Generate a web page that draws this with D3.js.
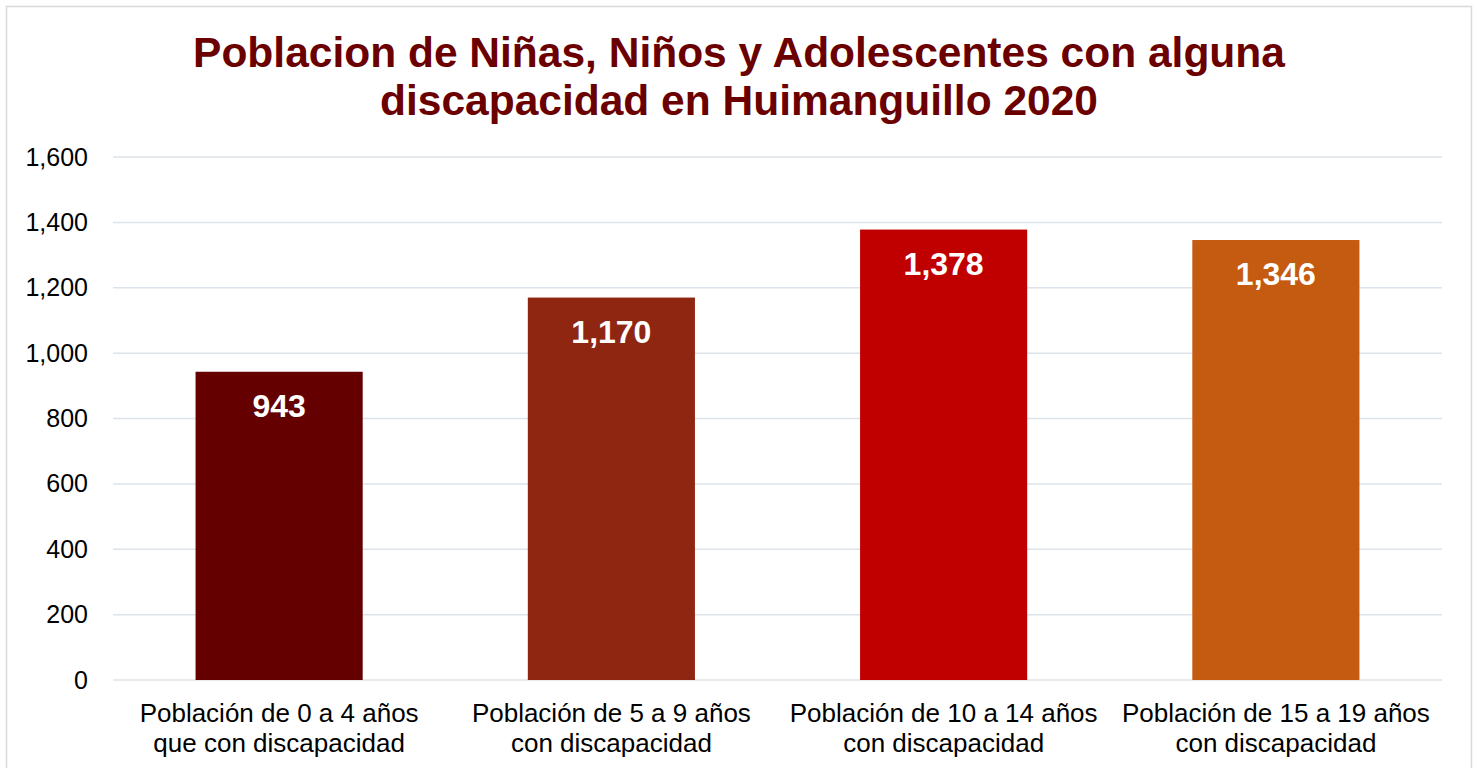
<!DOCTYPE html>
<html><head><meta charset="utf-8">
<script src="https://cdn.jsdelivr.net/npm/d3@7"></script>
<style>body{margin:0;background:#fff;}svg{display:block;font-family:"Liberation Sans",Arial,sans-serif;}</style>
</head><body>
<svg id="c" width="1478" height="768"></svg>
<script>
const categories = [
  ["Población de 0 a 4 años","que con discapacidad"],
  ["Población de 5 a 9 años","con discapacidad"],
  ["Población de 10 a 14 años","con discapacidad"],
  ["Población de 15 a 19 años","con discapacidad"]
];
const values = [943, 1170, 1378, 1346];
const colors = ["#640000", "#8e2612", "#c00000", "#c55a11"];
const yTicks = [0, 200, 400, 600, 800, 1000, 1200, 1400, 1600];
const titleLines = ["Poblacion de Niñas, Niños y Adolescentes con alguna", "discapacidad en Huimanguillo 2020"];

const svg = d3.select("#c");
svg.append("rect").attr("x",6.5).attr("y",6.5).attr("width",1465).attr("height",780)
  .attr("fill","#fff").attr("stroke","#d9d9d9").attr("stroke-width",1.5);

const m = {left:113, right:1442, top:157, bottom:680};
const x = d3.scaleBand().domain(d3.range(categories.length)).range([m.left,m.right]).paddingInner(0.497).paddingOuter(0.2485);
const y = d3.scaleLinear().domain([0,1600]).range([m.bottom,m.top]);

svg.append("g").selectAll("line").data(yTicks).join("line")
  .attr("x1",m.left).attr("x2",m.right).attr("y1",d=>y(d)).attr("y2",d=>y(d))
  .attr("stroke","#dde3ea").attr("stroke-width",1.5);

const yAxis = svg.append("g").attr("transform",`translate(${m.left},0)`)
  .call(d3.axisLeft(y).tickValues(yTicks).tickFormat(d3.format(",")).tickSize(0).tickPadding(25));
yAxis.select(".domain").remove();
yAxis.selectAll("text").attr("font-size",25).attr("fill","#000").attr("font-family","Liberation Sans, Arial, sans-serif");

svg.append("g").selectAll("rect").data(values).join("rect")
  .attr("x",(d,i)=>x(i)).attr("width",x.bandwidth())
  .attr("y",d=>y(d)).attr("height",d=>y(0)-y(d)).attr("fill",(d,i)=>colors[i]);

svg.append("g").selectAll("text").data(values).join("text")
  .attr("x",(d,i)=>x(i)+x.bandwidth()/2).attr("y",d=>y(d)+45)
  .attr("text-anchor","middle").attr("font-size",32).attr("font-weight","bold").attr("fill","#fff")
  .text(d=>d3.format(",")(d));

const xl = svg.append("g").selectAll("text").data(categories).join("text")
  .attr("text-anchor","middle").attr("font-size",26).attr("fill","#000")
  .attr("transform",(d,i)=>`translate(${x(i)+x.bandwidth()/2},0)`);
xl.selectAll("tspan").data(d=>d).join("tspan").attr("x",0).attr("y",(d,j)=>722+j*30).text(d=>d);

svg.append("g").selectAll("text").data(titleLines).join("text")
  .attr("x",739).attr("y",(d,i)=>67+i*48).attr("text-anchor","middle")
  .attr("font-size",42.5).attr("font-weight","bold").attr("fill","#6b0000").text(d=>d);
</script>
</body></html>
